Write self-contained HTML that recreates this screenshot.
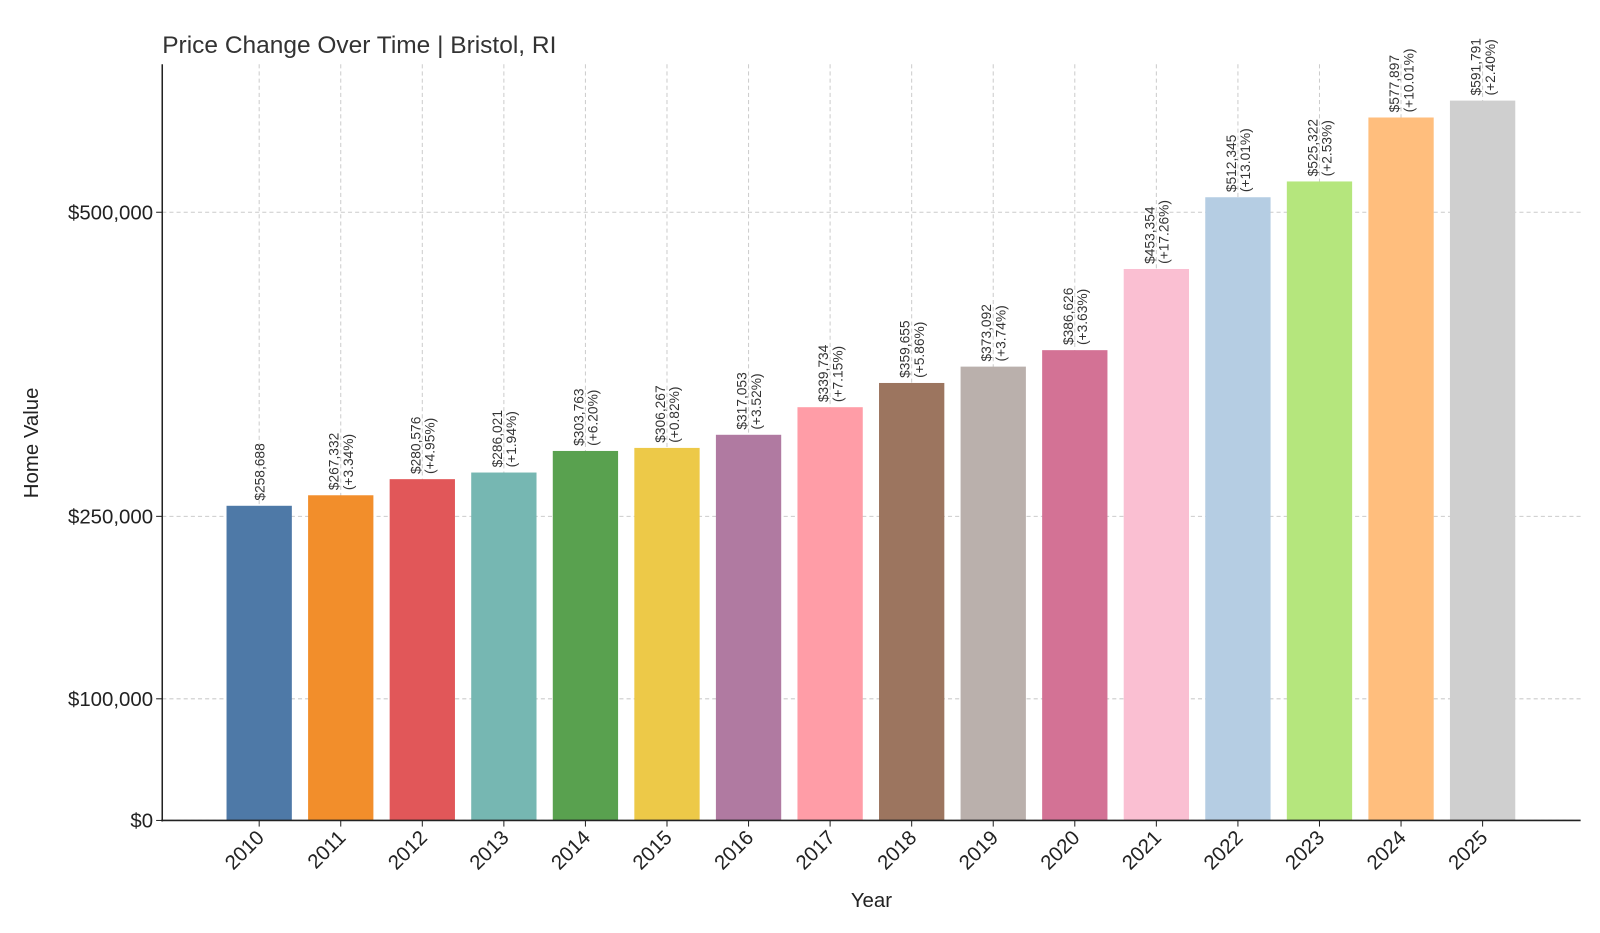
<!DOCTYPE html>
<html><head><meta charset="utf-8"><style>
body{margin:0;background:#fff;font-family:"Liberation Sans","DejaVu Sans",sans-serif;}
svg{display:block}
</style></head><body>
<svg id="c" width="1600" height="933" viewBox="0 0 1568 914.3" preserveAspectRatio="none" xmlns="http://www.w3.org/2000/svg">
<text x="159" y="52" font-size="24" fill="#333">Price Change Over Time | Bristol, RI</text>
<text x="0" y="0" transform="translate(37,434) rotate(-90)" text-anchor="middle" font-size="20" fill="#222">Home Value</text>
<text x="854" y="889" text-anchor="middle" font-size="20" fill="#222">Year</text>
<g id="grid"></g><g id="bars"></g><g id="labels"></g><g id="ticks"></g>
<line x1="159" y1="63" x2="159" y2="805" stroke="#222" stroke-width="1.5"/>
<line x1="158" y1="804" x2="1549" y2="804" stroke="#222" stroke-width="1.5"/>
</svg>
<script>
const years=["2010","2011","2012","2013","2014","2015","2016","2017","2018","2019","2020","2021","2022","2023","2024","2025"];
const values=[258688,267332,280576,286021,303763,306267,317053,339734,359655,373092,386626,453354,512345,525322,577897,591791];
const changes=["","+3.34%","+4.95%","+1.94%","+6.20%","+0.82%","+3.52%","+7.15%","+5.86%","+3.74%","+3.63%","+17.26%","+13.01%","+2.53%","+10.01%","+2.40%"];
const colors=["#4e79a7","#f28e2b","#e15759","#76b7b2","#59a14f","#edc948","#b07aa1","#ff9da7","#9c755f","#bab0ac","#d37295","#fabfd2","#b5cde3","#b5e67d","#ffbe7d","#cfcfcf"];
const yTicks=[0,100000,250000,500000];
const yTickLabels=["$0","$100,000","$250,000","$500,000"];
const NS="http://www.w3.org/2000/svg";
const y=v=>804-v*0.001192;
const x=i=>254+i*79.93;
const bw=64;
function mk(tag,attrs,parent){const e=document.createElementNS(NS,tag);for(const k in attrs)e.setAttribute(k,attrs[k]);document.getElementById(parent).appendChild(e);return e;}
yTicks.forEach((t,i)=>{
  const g=mk("line",{x1:159,x2:1549,y1:y(t),y2:y(t),stroke:"#ccc","stroke-dasharray":"4,3"},"grid");
  
  
  const tk=mk("line",{x1:153,x2:159,y1:y(t),y2:y(t),stroke:"#222"},"ticks");
  
  
  const l=mk("text",{x:150,y:y(t)+7,"text-anchor":"end","font-size":20,fill:"#222"},"ticks");
  l.textContent=yTickLabels[i];
  
  
});
years.forEach((yr,i)=>{
  const cx=x(i);
  const g=mk("line",{x1:cx,x2:cx,y1:63,y2:804,stroke:"#ccc","stroke-dasharray":"4,3"},"grid");
  
  
  const b=mk("rect",{x:cx-bw/2,y:y(values[i]),width:bw,height:804-y(values[i]),fill:colors[i]},"bars");
  
  
  const top=y(values[i])-5;
  const t=mk("text",{transform:`translate(${cx},${top}) rotate(-90)`,"font-size":13.5,fill:"#333"},"labels");
  
  
  const v="$"+values[i].toLocaleString("en-US");
  if(changes[i]){
    const a=mk("tspan",{x:0,y:-2},"labels");t.appendChild(a);a.textContent=v;
    const c=mk("tspan",{x:0,y:12},"labels");t.appendChild(c);c.textContent="("+changes[i]+")";
  } else {
    const a=mk("tspan",{x:0,y:5},"labels");t.appendChild(a);a.textContent=v;
  }
  const tk=mk("line",{x1:cx,x2:cx,y1:804,y2:810,stroke:"#222"},"ticks");
  
  
  const l=mk("text",{transform:`translate(${cx+6},${822}) rotate(-45)`,"text-anchor":"end","font-size":20,fill:"#222"},"ticks");
  l.textContent=yr;
  
  
});
</script>
</body></html>
